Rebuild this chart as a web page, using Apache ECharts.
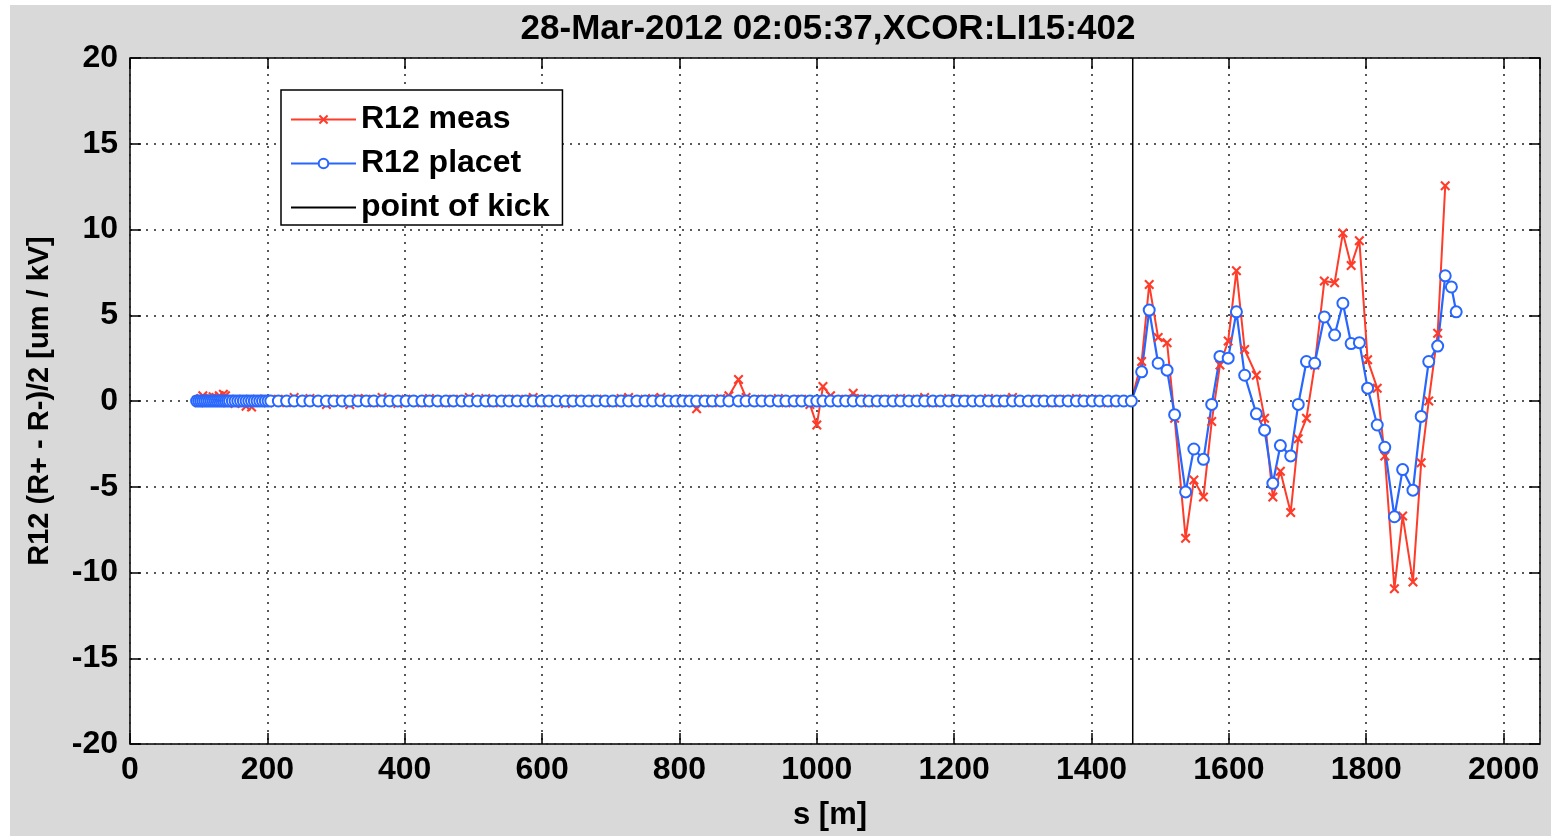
<!DOCTYPE html>
<html>
<head>
<meta charset="utf-8">
<script src="https://cdn.jsdelivr.net/npm/echarts@6/dist/echarts.min.js"></script>
<style>
html,body{margin:0;padding:0;background:#fff;width:1551px;height:836px;overflow:hidden;}
#c{position:absolute;left:10px;top:5px;width:1541px;height:831px;background:#d9d9d9;}
</style>
</head>
<body>
<div id="c"></div>
<script>
// BPM positions s [m]
const sPos = [
  97, 100, 103, 106, 109, 112, 115, 118, 121, 124,
  127, 130, 133, 136, 139, 142, 145, 149, 153, 157,
  161, 165, 169, 173, 177, 181, 185, 189, 193, 197,
  201, 205,
  216, 228, 239, 251, 262, 274, 286, 297, 309, 320,
  332, 344, 355, 367, 378, 390, 402, 413, 425, 436,
  448, 460, 471, 483, 494, 506, 518, 529, 541, 552,
  564, 576, 587, 599, 610, 622, 634, 645, 657, 668,
  680, 692, 703, 715, 726, 738, 750, 761, 773, 784,
  795, 805, 815, 825, 837, 848, 860, 872, 886, 897,
  909, 920, 932, 944, 955, 967, 978, 990, 1000, 1009,
  1020, 1031, 1042, 1053, 1065, 1076, 1088, 1099, 1111, 1122,
  1134, 1146, 1157, 1169, 1180, 1192, 1204, 1215, 1227, 1238,
  1250, 1262, 1273, 1285, 1296, 1308, 1320, 1331, 1343, 1354,
  1366, 1378, 1389, 1401, 1412, 1424, 1436, 1447,
  1458, 1473, 1484, 1497, 1510, 1521, 1537, 1549, 1563, 1575,
  1587, 1599, 1611, 1623, 1640, 1652, 1664, 1675, 1690, 1701,
  1713, 1725, 1739, 1754, 1766, 1778, 1790, 1802, 1816, 1827,
  1841, 1853, 1868, 1880, 1891, 1904, 1915, 1924, 1931
];
// R12 measured [um/kV]
const r12Meas = [
  0.05, -0.1, 0.15, 0.3, 0.1, -0.05, 0.2, 0.1, 0.25, 0.0,
  0.15, 0.3, 0.05, 0.4, 0.3, -0.1, 0.1, 0.0, -0.15, 0.05,
  -0.1, 0.1, -0.3, 0.0, -0.35, 0.05, 0.1, -0.05, 0.0, 0.1,
  -0.1, 0.05,
  0.1, -0.1, 0.2, -0.05, 0.15, 0.0, -0.2, 0.1, 0.05, -0.2,
  0.15, 0.1, -0.1, 0.2, 0.05, -0.15, 0.1, 0.0, -0.1, 0.15,
  0.05, -0.1, 0.1, -0.05, 0.2, 0.0, 0.15, -0.1, 0.05, 0.1,
  -0.05, 0.1, 0.2, -0.1, 0.05, 0.0, -0.15, 0.1, 0.05, -0.05,
  0.1, 0.0, -0.1, 0.15, 0.2, -0.05, 0.1, 0.15, 0.2, 0.05,
  -0.1, 0.1, 0.0, -0.45, 0.1, -0.1, 0.15, 0.3, 1.25, 0.2,
  -0.05, 0.1, 0.0, 0.15, -0.1, 0.05, 0.1, -0.2, -1.4, 0.85,
  0.3, 0.05, 0.1, 0.45, 0.15, -0.1, 0.05, 0.1, -0.05, 0.15,
  0.0, 0.1, 0.2, -0.1, 0.05, 0.15, -0.05, 0.1, 0.0, 0.05,
  0.15, -0.1, 0.1, 0.2, 0.0, -0.05, 0.1, 0.05, -0.1, 0.1,
  0.0, 0.15, -0.05, 0.1, 0.0, -0.1, 0.05, 0.0,
  0.0, 2.3, 6.8, 3.7, 3.4, -1.0, -8.0, -4.6, -5.6, -1.2,
  2.1, 3.5, 7.6, 3.0, 1.5, -1.0, -5.6, -4.1, -6.5, -2.2,
  -1.0, 2.1, 7.0, 6.9, 9.8, 7.9, 9.35, 2.4, 0.75, -3.2,
  -10.95, -6.7, -10.55, -3.6, 0.0, 3.95, 12.55, null, null
];
// R12 PLACET model [um/kV]
const r12Placet = [
  0, 0, 0, 0, 0, 0, 0, 0, 0, 0,
  0, 0, 0, 0, 0, 0, 0, 0, 0, 0,
  0, 0, 0, 0, 0, 0, 0, 0, 0, 0,
  0, 0,
  0, 0, 0, 0, 0, 0, 0, 0, 0, 0,
  0, 0, 0, 0, 0, 0, 0, 0, 0, 0,
  0, 0, 0, 0, 0, 0, 0, 0, 0, 0,
  0, 0, 0, 0, 0, 0, 0, 0, 0, 0,
  0, 0, 0, 0, 0, 0, 0, 0, 0, 0,
  0, 0, 0, 0, 0, 0, 0, 0, 0, 0,
  0, 0, 0, 0, 0, 0, 0, 0, 0, 0,
  0, 0, 0, 0, 0, 0, 0, 0, 0, 0,
  0, 0, 0, 0, 0, 0, 0, 0, 0, 0,
  0, 0, 0, 0, 0, 0, 0, 0, 0, 0,
  0, 0, 0, 0, 0, 0, 0, 0,
  0, 1.7, 5.3, 2.2, 1.8, -0.8, -5.3, -2.8, -3.4, -0.2,
  2.6, 2.5, 5.2, 1.5, -0.75, -1.7, -4.8, -2.6, -3.2, -0.2,
  2.3, 2.2, 4.9, 3.85, 5.7, 3.35, 3.4, 0.75, -1.4, -2.7,
  -6.75, -4.0, -5.2, -0.9, 2.3, 3.2, 7.3, 6.65, 5.2
];
const kickS = 1460;
const kickRange = [-20, 20];
const xTicks = {min: 0, max: 2053, interval: 200};
const yTicks = {min: -20, max: 20, interval: 5};

const FONT = "'Liberation Sans', Arial, sans-serif";
const RED = '#ff3b2a';
const BLUE = '#2767ff';
const xMark = 'path://M0,1.5L1.5,0L5,3.5L8.5,0L10,1.5L6.5,5L10,8.5L8.5,10L5,6.5L1.5,10L0,8.5L3.5,5Z';

const measData = sPos.map((s, i) => [s, r12Meas[i]]).filter(d => d[1] !== null);
const placetData = sPos.map((s, i) => [s, r12Placet[i]]);
const kickData = kickRange.map(v => [kickS, v]);

const chart = echarts.init(document.getElementById('c'), null, {renderer: 'canvas'});
const gridDot = {show: true, lineStyle: {color: '#222', width: 1.5, type: [2, 6]}};
const tick = {show: true, inside: true, length: 11, lineStyle: {color: '#000', width: 1.5}};
const noLine = {show: false, onZero: false};
const plain = v => String(v);
chart.setOption({
  animation: false,
  backgroundColor: '#d9d9d9',
  title: {
    text: '28-Mar-2012 02:05:37,XCOR:LI15:402',
    left: 813, top: 2, textAlign: 'center',
    textStyle: {fontFamily: FONT, fontSize: 35, fontWeight: 'bold', color: '#000'}
  },
  grid: {
    left: 120, top: 53, right: 11, bottom: 88,
    show: true, backgroundColor: '#fff', borderColor: '#000', borderWidth: 1.5
  },
  legend: {
    data: ['R12 meas', 'R12 placet', {name: 'point of kick', itemStyle: {opacity: 0}}],
    orient: 'vertical', left: 271, top: 85,
    backgroundColor: '#fff', borderColor: '#000', borderWidth: 1.5, borderRadius: 0,
    padding: [13, 13, 1, 9], itemGap: 11, itemWidth: 65, itemHeight: 12,
    textStyle: {fontFamily: FONT, fontSize: 32, fontWeight: 'bold', color: '#000', lineHeight: 33}
  },
  xAxis: [{
    type: 'value', position: 'bottom', min: xTicks.min, max: xTicks.max, interval: xTicks.interval,
    name: 's [m]', nameLocation: 'middle', nameGap: 56,
    nameTextStyle: {fontFamily: FONT, fontSize: 31, fontWeight: 'bold', color: '#000', padding: [0, 10, 0, 0]},
    axisLine: noLine, axisTick: tick, splitLine: gridDot,
    axisLabel: {fontFamily: FONT, fontSize: 32, fontWeight: 'bold', color: '#000', margin: 10, showMaxLabel: false, formatter: plain}
  }, {
    type: 'value', position: 'top', min: xTicks.min, max: xTicks.max, interval: xTicks.interval,
    axisLine: noLine, axisTick: tick, splitLine: {show: false}, axisLabel: {show: false}
  }],
  yAxis: [{
    type: 'value', position: 'left', min: yTicks.min, max: yTicks.max, interval: yTicks.interval,
    name: 'R12 (R+ - R-)/2 [um / kV]', nameLocation: 'middle', nameGap: 76,
    nameTextStyle: {fontFamily: FONT, fontSize: 29, fontWeight: 'bold', color: '#000'},
    axisLine: noLine, axisTick: tick, splitLine: gridDot,
    axisLabel: {fontFamily: FONT, fontSize: 32, fontWeight: 'bold', color: '#000', margin: 12, formatter: plain}
  }, {
    type: 'value', position: 'right', min: yTicks.min, max: yTicks.max, interval: yTicks.interval,
    axisLine: noLine, axisTick: tick, splitLine: {show: false}, axisLabel: {show: false}
  }],
  series: [{
    name: 'R12 meas', type: 'line', data: measData,
    symbol: xMark, symbolSize: 10, showAllSymbol: true,
    lineStyle: {color: RED, width: 2}, itemStyle: {color: RED}
  }, {
    name: 'R12 placet', type: 'line', data: placetData,
    symbol: 'emptyCircle', symbolSize: 11, showAllSymbol: true,
    lineStyle: {color: BLUE, width: 2.2}, itemStyle: {color: BLUE, borderColor: BLUE, borderWidth: 2}
  }, {
    name: 'point of kick', type: 'line', data: kickData,
    symbol: 'none', lineStyle: {color: '#000', width: 1.5}, itemStyle: {color: '#000'}
  }]
});
</script>
</body>
</html>
